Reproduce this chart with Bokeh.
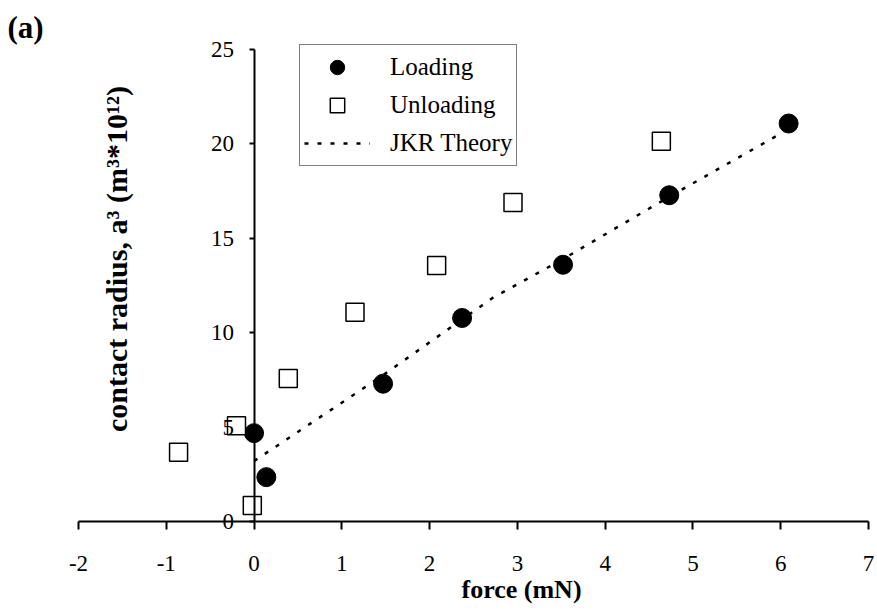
import numpy as np
from bokeh.plotting import figure
from bokeh.models import (Legend, LegendItem, Label, Range1d, FixedTicker,
                          LinearAxis)
from bokeh.embed import file_html
from bokeh.resources import INLINE

# ---- data ----
loading_force = [0.0, 0.14, 1.47, 2.37, 3.52, 4.73, 6.09]
loading_a3 = [4.68, 2.35, 7.30, 10.78, 13.60, 17.28, 21.08]
unloading_force = [-0.86, -0.20, -0.02, 0.39, 1.15, 2.08, 2.95, 4.64]
unloading_a3 = [3.67, 5.07, 0.85, 7.57, 11.08, 13.56, 16.90, 20.14]
jkr_force = [0.0, 1.47, 2.72, 3.52, 4.73, 6.02]
jkr_a3 = [3.2, 7.75, 11.85, 13.9, 17.2, 20.6]
x_ticks = [-2, -1, 0, 1, 2, 3, 4, 5, 6, 7]
y_ticks = [0, 5, 10, 15, 20, 25]

SERIF = "Liberation Serif"

# The frame covers the whole canvas; axes are drawn at x=0 / y=0.
p = figure(width=874, height=606, output_backend="svg", toolbar_location=None,
           x_range=Range1d(-2.8886, 7.0683), y_range=Range1d(-4.502, 27.595),
           x_axis_location=None, y_axis_location=None,
           min_border=0, min_border_left=0, min_border_right=0,
           min_border_top=0, min_border_bottom=0)
p.grid.visible = False
p.outline_line_color = None
p.background_fill_color = "white"
p.border_fill_color = "white"

xaxis = LinearAxis(fixed_location=0, bounds=(-2, 7),
                   ticker=FixedTicker(ticks=x_ticks))
yaxis = LinearAxis(fixed_location=0, bounds=(0, 25),
                   ticker=FixedTicker(ticks=y_ticks))
for ax in (xaxis, yaxis):
    ax.axis_line_color = "black"
    ax.axis_line_width = 2
    ax.major_tick_line_color = "black"
    ax.major_tick_line_width = 2
    ax.minor_tick_line_color = None
    ax.major_tick_in = 0
    ax.major_label_text_font = SERIF
    ax.major_label_text_font_size = "23px"
    ax.major_label_text_color = "black"
xaxis.major_tick_out = 8
xaxis.major_label_standoff = 26
xaxis.major_label_overrides = {-2: "-2", -1: "-1"}
yaxis.major_tick_out = 5
yaxis.major_label_standoff = 15
p.add_layout(xaxis, "below")
p.add_layout(yaxis, "left")

# glyphs
r_jkr = p.line(jkr_force, jkr_a3, line_color="black", line_width=2.5,
               line_dash="4 9")
r_load = p.scatter(loading_force, loading_a3, marker="circle", size=19,
                   fill_color="black", line_color="black")
r_unload = p.scatter(unloading_force, unloading_a3, marker="square", size=18,
                     fill_color="white", line_color="black", line_width=1.5)

legend = Legend(items=[LegendItem(label="Loading", renderers=[r_load]),
                       LegendItem(label="Unloading", renderers=[r_unload]),
                       LegendItem(label="JKR Theory", renderers=[r_jkr])],
                location=(299, 440))
legend.border_line_color = "black"
legend.border_line_width = 1
legend.background_fill_color = "white"
legend.background_fill_alpha = 1
legend.label_text_font = SERIF
legend.label_text_font_size = "25px"
legend.label_text_color = "black"
legend.glyph_width = 66
legend.glyph_height = 36
legend.label_height = 36
legend.spacing = 2
legend.padding = 4
legend.margin = 0
legend.label_standoff = 20
p.add_layout(legend)

# labels
p.add_layout(Label(x=-2.809, y=27.1, text="(a)", text_font=SERIF,
                   text_font_size="31px", text_font_style="bold",
                   text_color="black",
                   text_align="left", text_baseline="top"))
p.add_layout(Label(x=-1.567, y=13.9,
                   text="contact radius, a\u00b3 (m\u00b3*10\u00b9\u00b2)",
                   angle=np.pi / 2, text_font=SERIF,
                   text_font_size="30px", text_font_style="bold",
                   text_color="black",
                   text_align="center", text_baseline="middle"))
p.add_layout(Label(x=3.047, y=-2.81, text="force (mN)", text_font=SERIF,
                   text_font_size="26px", text_font_style="bold",
                   text_color="black",
                   text_align="center", text_baseline="top"))

open("out.html", "w").write(file_html(p, INLINE))
